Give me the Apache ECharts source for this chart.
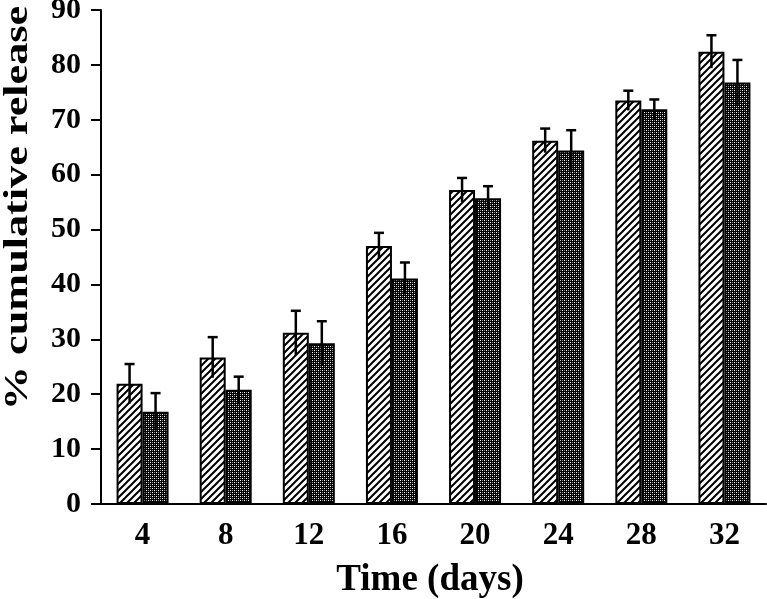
<!DOCTYPE html>
<html><head><meta charset="utf-8">
<script src="https://cdn.jsdelivr.net/npm/echarts@6/dist/echarts.min.js"></script>
<style>html,body{margin:0;padding:0;background:#fff}#c{width:767px;height:599px}</style>
</head><body><div id="c"></div>
<script>
var categories = ['4','8','12','16','20','24','28','32'];
var seriesA = [21.9, 26.7, 31.2, 47.0, 57.2, 66.2, 73.5, 82.4];
var errA    = [3.6, 3.7, 4.0, 2.4, 2.2, 2.2, 1.8, 3.0];
var seriesB = [16.8, 20.8, 29.3, 41.1, 55.7, 64.4, 71.9, 76.8];
var errB    = [3.4, 2.4, 4.0, 2.9, 2.2, 3.7, 1.8, 4.1];
var yTicks = {min: 0, max: 90, interval: 10};
var xTitle = 'Time (days)';
var yTitle = '% cumulative release';

function hatch() {
  var c = document.createElement('canvas'); c.width = 7; c.height = 7;
  var g = c.getContext('2d'); g.fillStyle = '#fff'; g.fillRect(0,0,7,7);
  g.strokeStyle = '#000'; g.lineWidth = 2;
  g.beginPath();
  for (var k = -7; k <= 14; k += 7) { g.moveTo(k - 1, 8); g.lineTo(k + 8, -1); }
  g.stroke();
  return c;
}
function cross() {
  var c = document.createElement('canvas'); c.width = 4; c.height = 4;
  var g = c.getContext('2d'); g.fillStyle = '#000'; g.fillRect(0,0,4,4);
  g.fillStyle = '#fff'; g.fillRect(0,0,1,1); g.fillRect(2,2,1,1);
  g.fillStyle = '#888'; g.fillRect(2,0,1,1); g.fillRect(0,2,1,1);
  return c;
}
var BW = 26;
function errSeries(vals, errs, off) {
  return {
    type: 'custom', z: 10,
    data: vals.map(function (v, i) { return [i, v, errs[i]]; }),
    renderItem: function (params, api) {
      var i = api.value(0), v = api.value(1), e = api.value(2);
      var top = api.coord([i, v + e]), bot = api.coord([i, v - e]);
      var x = top[0] + off;
      var st = {stroke: '#000', lineWidth: 2.5};
      return {type: 'group', children: [
        {type: 'line', shape: {x1: x, y1: top[1], x2: x, y2: bot[1]}, style: st},
        {type: 'line', shape: {x1: x - 5, y1: top[1], x2: x + 5, y2: top[1]}, style: st}
      ]};
    }
  };
}
var font = 'Liberation Serif';
var chart = echarts.init(document.getElementById('c'));
chart.setOption({
  animation: false,
  backgroundColor: '#fff',
  grid: {left: 101, right: 1, top: 10, bottom: 95, containLabel: false, outerBoundsMode: 'none'},
  graphic: [
    {type: 'text', x: 18, y: 208, rotation: Math.PI / 2, scaleX: 1.3,
     style: {text: yTitle, font: 'bold 34px "Liberation Serif"', fill: '#000', align: 'center', verticalAlign: 'middle'}},
    {type: 'text', x: 430, y: 580,
     style: {text: xTitle, font: 'bold 37px "Liberation Serif"', fill: '#000', align: 'center', verticalAlign: 'middle'}}
  ],
  xAxis: {
    type: 'category', data: categories,
    axisLine: {lineStyle: {color: '#000', width: 2}},
    axisTick: {length: 9, lineStyle: {color: '#000', width: 2}},
    axisLabel: {fontFamily: font, fontWeight: 'bold', fontSize: 31, color: '#000', margin: 16}
  },
  yAxis: {
    type: 'value', min: yTicks.min, max: yTicks.max, interval: yTicks.interval,
    splitLine: {show: false},
    axisLine: {show: true, lineStyle: {color: '#000', width: 2}},
    axisTick: {show: true, length: 10, lineStyle: {color: '#000', width: 2}},
    axisLabel: {fontFamily: font, fontWeight: 'bold', fontSize: 30, color: '#000', margin: 20}
  },
  series: [
    {type: 'bar', data: seriesA, barWidth: BW, barGap: '0%',
     itemStyle: {color: {image: hatch(), repeat: 'repeat'}, borderColor: '#000', borderWidth: 2}},
    {type: 'bar', data: seriesB, barWidth: BW, barGap: '0%',
     itemStyle: {color: {image: cross(), repeat: 'repeat'}, borderColor: '#000', borderWidth: 2}},
    errSeries(seriesA, errA, -BW / 2),
    errSeries(seriesB, errB, BW / 2)
  ]
});
</script></body></html>
